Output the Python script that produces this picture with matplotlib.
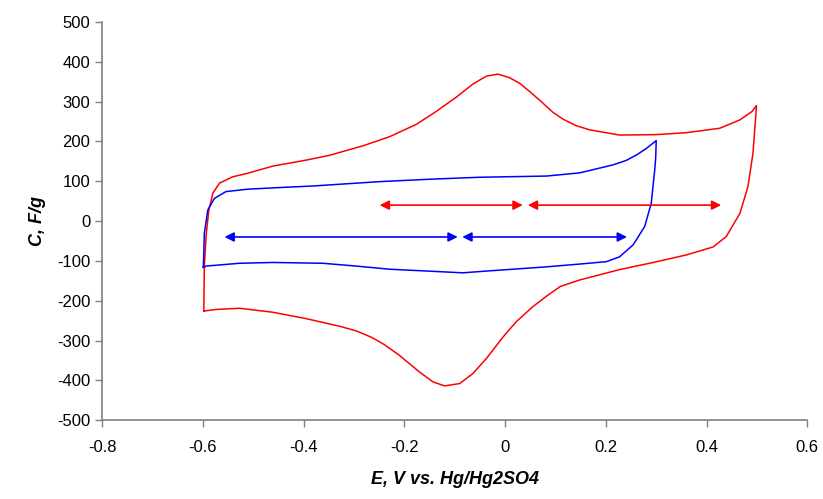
import matplotlib
matplotlib.use("Agg")
import matplotlib.pyplot as plt

plt.rcParams["font.family"] = ["Liberation Sans", "DejaVu Sans"]
plt.rcParams["axes.unicode_minus"] = False

# red loop (wide potential window)
red_x = [-0.598, -0.597, -0.595, -0.593, -0.588, -0.580, -0.567, -0.541, -0.511,
         -0.461, -0.395, -0.349, -0.282, -0.229, -0.176, -0.137, -0.097, -0.064,
         -0.037, -0.014, 0.009, 0.030, 0.049, 0.070, 0.095, 0.115, 0.140, 0.168,
         0.227, 0.300, 0.360, 0.426, 0.466, 0.490, 0.499,
         0.497, 0.492, 0.482, 0.466, 0.439, 0.413, 0.360, 0.294, 0.227, 0.148,
         0.110, 0.085, 0.055, 0.022, -0.004, -0.037, -0.064, -0.090, -0.120,
         -0.143, -0.170, -0.210, -0.240, -0.265, -0.295, -0.329, -0.395, -0.461,
         -0.527, -0.574, -0.598]
red_y = [-226, -115, -70, -31, 28, 70, 95, 111, 120,
         138, 153, 165, 189, 212, 243, 275, 311, 344,
         364, 369, 360, 345, 325, 302, 273, 256, 240, 229,
         216, 217, 222, 233, 254, 275, 290,
         254, 170, 86, 19, -39, -65, -85, -104, -122, -148,
         -164, -186, -215, -253, -291, -345, -383, -408, -414,
         -404, -379, -337, -310, -292, -276, -264, -245, -229,
         -219, -222, -226]

# blue loop (narrow potential window)
blue_x = [-0.599, -0.598, -0.597, -0.590, -0.577, -0.554, -0.511, -0.450, -0.382,
          -0.249, -0.150, -0.051, 0.082, 0.148, 0.214, 0.240, 0.261, 0.280, 0.300,
          0.299, 0.297, 0.290, 0.277, 0.254, 0.227, 0.201, 0.148, 0.082, 0.015,
          -0.031, -0.084, -0.163, -0.229, -0.296, -0.362, -0.461, -0.527, -0.593,
          -0.599]
blue_y = [-116, -80, -31, 28, 57, 74, 80, 84, 88,
          99, 105, 110, 113, 121, 141, 152, 166, 182, 202,
          160, 128, 44, -14, -60, -90, -102, -108, -115, -121,
          -125, -130, -125, -121, -113, -106, -104, -106, -113,
          -116]

# double-headed arrows marking the potential ranges
red_arrow_y = 40
red_arrow_spans = [(-0.249, 0.035), (0.045, 0.429)]
blue_arrow_y = -40
blue_arrow_spans = [(-0.557, -0.094), (-0.085, 0.242)]

x_ticks = [-0.8, -0.6, -0.4, -0.2, 0, 0.2, 0.4, 0.6]
x_tick_labels = ["-0.8", "-0.6", "-0.4", "-0.2", "0", "0.2", "0.4", "0.6"]
y_ticks = list(range(-500, 501, 100))

fig = plt.figure(figsize=(8.23, 4.99), dpi=100)
ax = fig.add_axes([0.124, 0.158, 0.857, 0.798])

ax.plot(red_x, red_y, color="red", linewidth=1.1)
ax.plot(blue_x, blue_y, color="blue", linewidth=1.1)

for (x0, x1) in red_arrow_spans:
    ax.annotate("", xy=(x1, red_arrow_y), xytext=(x0, red_arrow_y),
                arrowprops=dict(arrowstyle="<|-|>", color="red", lw=1.2,
                                mutation_scale=14, shrinkA=0, shrinkB=0))
for (x0, x1) in blue_arrow_spans:
    ax.annotate("", xy=(x1, blue_arrow_y), xytext=(x0, blue_arrow_y),
                arrowprops=dict(arrowstyle="<|-|>", color="blue", lw=1.2,
                                mutation_scale=14, shrinkA=0, shrinkB=0))

ax.set_xlim(-0.8, 0.6)
ax.set_ylim(-500, 500)
ax.set_xticks(x_ticks)
ax.set_xticklabels(x_tick_labels)
ax.set_yticks(y_ticks)

for side in ("top", "right"):
    ax.spines[side].set_visible(False)
for side in ("left", "bottom"):
    ax.spines[side].set_color("#808080")
    ax.spines[side].set_linewidth(1.2)
ax.tick_params(axis="both", direction="out", length=5, width=1.0,
               color="#808080", labelsize=12, labelcolor="black")
ax.tick_params(axis="x", pad=9)

ax.set_xlabel("E, V vs. Hg/Hg2SO4", fontsize=13, fontweight="bold",
              fontstyle="italic", labelpad=12)
ax.set_ylabel("C, F/g", fontsize=13, fontweight="bold", fontstyle="italic",
              labelpad=8)

fig.savefig("out.png", dpi=100)
